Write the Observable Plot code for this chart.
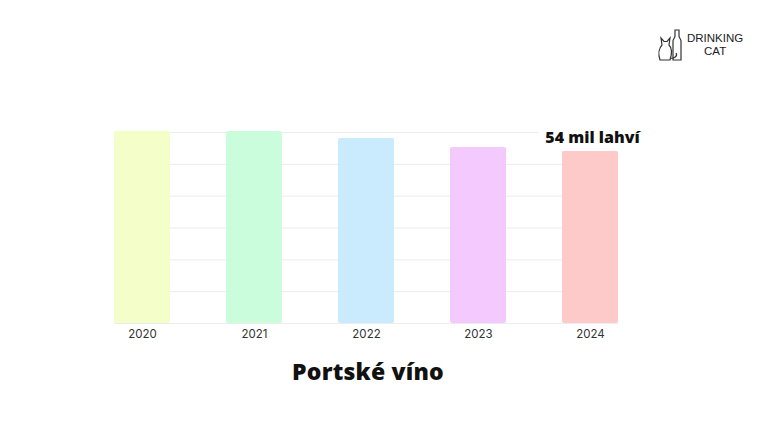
<!DOCTYPE html>
<html>
<head>
<meta charset="utf-8">
<script src="https://cdn.jsdelivr.net/npm/d3@7"></script>
<script src="https://cdn.jsdelivr.net/npm/@observablehq/plot@0.6"></script>
<style>
  html, body { margin: 0; padding: 0; background: #fff; }
  #wrap { position: relative; width: 768px; height: 432px; overflow: hidden; }
  #title { position: absolute; left: 0; width: 736px; top: 355px; text-align: center;
    font-family: "Open Sans", "Noto Sans", sans-serif; font-weight: 800; font-size: 23px; color: #111; letter-spacing: 0.2px; }
  #logo { position: absolute; left: 657px; top: 28px; display: flex; align-items: center; }
  #logo .txt { margin-left: 2px; }
  #logo .ln { display: block; font-family: "Liberation Sans", Arial, sans-serif; font-size: 11.5px; line-height: 13.5px; height: 13.5px; color: #222; text-align: center; }
</style>
</head>
<body>
<div id="wrap">
  <div id="chart"></div>
  <div id="title">Portské víno</div>
  <div id="logo">
    <svg width="28" height="34" viewBox="0 0 28 34" fill="none" stroke="#333" stroke-width="1.2">
      <path d="M3 32 C1 26 2 20 5 17 L4 10 L7 13.5 L10 13.5 L13 10 L12 17 C15 20 15 26 13 32 Z"/>
      <path d="M16 32 L16 13 C16 11 18 10 18 8 L18 2 L22 2 L22 8 C22 10 24 11 24 13 L24 32 Z"/>
      <path d="M13 30 C17 31 21 28 19 25"/>
    </svg>
    <div class="txt"><span class="ln">DRINKING</span><span class="ln">CAT</span></div>
  </div>
</div>
<script>
const years = ["2020", "2021", "2022", "2023", "2024"];
const values = [60.4, 60.3, 58.1, 55.3, 54.0];
const colors = ["#f4fec9", "#c9fddb", "#c9ebfd", "#f4c9fd", "#fdc9c9"];
const gridTicks = [0, 10, 20, 30, 40, 50, 60];
const labelText = "54 mil lahví";

const data = years.map((y, i) => ({year: y, value: values[i], color: colors[i]}));
const last = data[data.length - 1];

const chart = Plot.plot({
  width: 768,
  height: 432,
  marginLeft: 114,
  marginRight: 150,
  marginTop: 132,
  marginBottom: 109,
  x: {domain: years, paddingInner: 0.5, paddingOuter: 0, label: null, tickSize: 0, tickPadding: 6},
  y: {domain: [0, 60], axis: null},
  style: {fontFamily: "Inter, 'Noto Sans', sans-serif", fontSize: "11.5px", color: "#333", background: "#fff"},
  marks: [
    Plot.ruleY(gridTicks, {stroke: "#ececec", strokeWidth: 1}),
    Plot.barY(data, {x: "year", y: "value", fill: "color", rx: 2}),
    Plot.text([last], {x: "year", y: "value", text: () => labelText, dy: -9, dx: 2, lineAnchor: "bottom",
      fontSize: 16, fontWeight: 800, fill: "#111", stroke: "white", strokeWidth: 16,
      fontFamily: "'Open Sans', 'Noto Sans', sans-serif"})
  ]
});
document.getElementById("chart").appendChild(chart);
</script>
</body>
</html>
